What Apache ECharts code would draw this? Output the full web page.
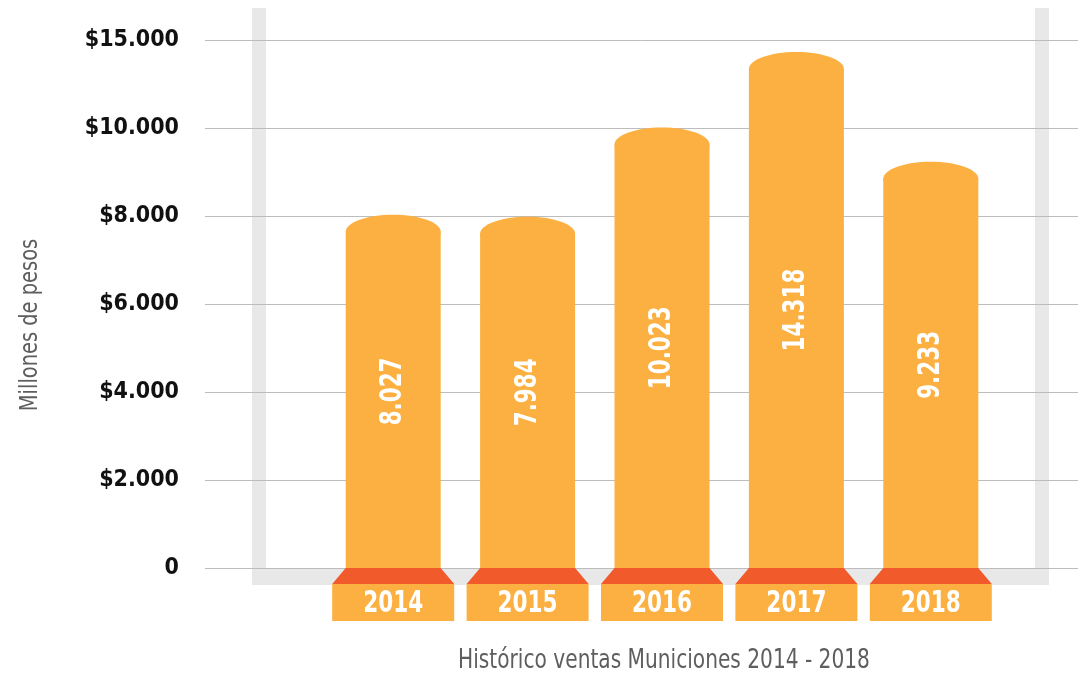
<!DOCTYPE html>
<html>
<head>
<meta charset="utf-8">
<script src="https://cdn.jsdelivr.net/npm/echarts@6/dist/echarts.min.js"></script>
<style>
  html, body { margin: 0; padding: 0; background: #fff; }
  #chart { width: 1078px; height: 680px; }
</style>
</head>
<body>
<div id="chart"></div>
<script>
var years = ['2014', '2015', '2016', '2017', '2018'];
var ventas = [8027, 7984, 10023, 14318, 9233];
var tickValues = [0, 2000, 4000, 6000, 8000, 10000, 15000];
var tickLabels = ['0', '$2.000', '$4.000', '$6.000', '$8.000', '$10.000', '$15.000'];

var narrow = '"DejaVu Sans Condensed", sans-serif';

// the axis ticks are evenly spaced but not linear, so map a value into its tick slot
function toSlot(v) {
  for (var i = 0; i < tickValues.length - 1; i++) {
    if (v <= tickValues[i + 1]) {
      return i + (v - tickValues[i]) / (tickValues[i + 1] - tickValues[i]);
    }
  }
  return tickValues.length - 1;
}

var chart = echarts.init(document.getElementById('chart'));

var option = {
  backgroundColor: '#fff',
  animation: false,
  graphic: [
    { type: 'rect', z: -10, shape: { x: 252, y: 8, width: 14, height: 577 }, style: { fill: '#e8e8e8' } },
    { type: 'rect', z: -10, shape: { x: 1035, y: 8, width: 14, height: 577 }, style: { fill: '#e8e8e8' } },
    { type: 'rect', z: -10, shape: { x: 252, y: 568, width: 797, height: 17 }, style: { fill: '#e8e8e8' } },
    {
      type: 'text', x: 664, y: 661, scaleX: 0.83,
      style: {
        text: 'Histórico ventas Municiones 2014 - 2018', fill: '#5e5e5e',
        align: 'center', verticalAlign: 'middle', font: 'normal 27px ' + narrow
      }
    },
    {
      type: 'text', x: 31, y: 325, rotation: Math.PI / 2, scaleX: 0.9,
      style: {
        text: 'Millones de pesos', fill: '#5e5e5e',
        align: 'center', verticalAlign: 'middle', font: 'normal 24px ' + narrow
      }
    }
  ],
  grid: [
    { left: 205, right: 0, top: 40, bottom: 112 },
    { left: 326, width: 672, top: 40, bottom: 112 }
  ],
  xAxis: [
    { gridIndex: 0, type: 'value', show: false, min: 0, max: 1 },
    { gridIndex: 1, type: 'category', data: years, show: false }
  ],
  yAxis: [
    {
      gridIndex: 0,
      type: 'value',
      min: 0,
      max: tickValues.length - 1,
      interval: 1,
      axisLine: { show: false },
      axisTick: { show: false },
      axisLabel: {
        margin: 26,
        fontFamily: narrow,
        fontWeight: 'bold',
        fontSize: 23,
        color: '#111',
        formatter: function (v) { return tickLabels[v]; }
      },
      splitLine: { lineStyle: { color: '#bcbcbc', width: 1 } }
    },
    { gridIndex: 1, type: 'value', min: 0, max: tickValues.length - 1, show: false }
  ],
  series: [
    {
      type: 'custom',
      xAxisIndex: 1,
      yAxisIndex: 1,
      data: ventas.map(function (v, i) { return [i, toSlot(v), v]; }),
      renderItem: function (params, api) {
        var top = api.coord([api.value(0), api.value(1)]);
        var base = api.coord([api.value(0), 0]);
        var cx = top[0];
        var bw = 95, capH = 17, bw2 = 122;
        var bodyTop = top[1] + capH;
        var label = (api.value(2) / 1000).toFixed(3);
        var idx = params.dataIndex;
        return {
          type: 'group',
          children: [
            { type: 'rect', shape: { x: cx - bw / 2, y: bodyTop, width: bw, height: base[1] - bodyTop }, style: { fill: '#fbb041' } },
            { type: 'ellipse', shape: { cx: cx, cy: bodyTop, rx: bw / 2, ry: capH }, style: { fill: '#fbb041' } },
            {
              type: 'polygon',
              shape: { points: [[cx - bw / 2, base[1]], [cx + bw / 2, base[1]], [cx + bw2 / 2, base[1] + 16], [cx - bw2 / 2, base[1] + 16]] },
              style: { fill: '#f15a2b' }
            },
            { type: 'rect', shape: { x: cx - bw2 / 2, y: base[1] + 16, width: bw2, height: 37 }, style: { fill: '#fbb041' } },
            {
              type: 'text',
              x: cx, y: base[1] + 36, scaleX: 0.8,
              style: {
                text: years[idx], fill: '#fff', align: 'center', verticalAlign: 'middle',
                font: 'bold 30px ' + narrow
              }
            },
            {
              type: 'text',
              x: cx, y: (top[1] + base[1]) / 2,
              rotation: Math.PI / 2, scaleX: 0.77,
              style: {
                text: label, fill: '#fff', align: 'center', verticalAlign: 'middle',
                font: 'bold 31px ' + narrow
              }
            }
          ]
        };
      }
    }
  ]
};

chart.setOption(option);
</script>
</body>
</html>
